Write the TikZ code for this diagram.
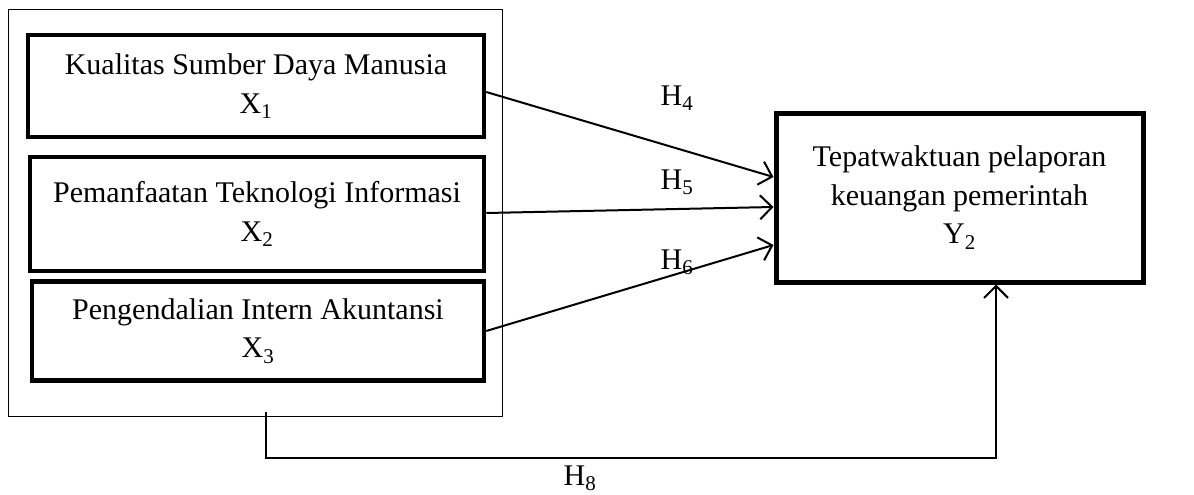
\documentclass[tikz,border=0pt]{standalone}
\usepackage{fontspec}
\setmainfont{Liberation Serif}
\usetikzlibrary{arrows.meta}
\begin{document}
\begin{tikzpicture}[x=1pt,y=-1pt,
  every node/.style={font=\fontsize{30}{38.5}\selectfont, inner sep=0pt, align=center},
  varbox/.style={draw, line width=4.5pt},
  outerbox/.style={draw, line width=1pt},
  arr/.style={line width=2pt, -{Straight Barb[length=12pt,width=24pt,line width=2pt]}},
  hlabel/.style={}
]
\useasboundingbox (0,0) rectangle (1194,495);
\node[outerbox, minimum width=494pt, minimum height=406pt] (outer) at (255,213) {};
\node[varbox, minimum width=456pt, minimum height=102pt] (b1) at (256,86) {Kualitas Sumber Daya Manusia\\X\textsubscript{1}};
\node[varbox, minimum width=454pt, minimum height=114pt] (b2) at (257,214) {Pemanfaatan Teknologi Informasi\\X\textsubscript{2}};
\node[varbox, minimum width=452pt, minimum height=99pt] (b3) at (258,331) {Pengendalian Intern Akuntansi\\X\textsubscript{3}};
\node[varbox, line width=5pt, minimum width=367pt, minimum height=169pt] (y) at (959.5,197.5) {Tepatwaktuan pelaporan\\keuangan pemerintah\\Y\textsubscript{2}};
\draw[arr] ([yshift=-6pt]b1.east) -- ([yshift=20.5pt]y.west);
\draw[arr] ([yshift=1pt]b2.east) -- ([yshift=-9.5pt]y.west);
\draw[arr] (b3.east) -- ([yshift=-47.5pt]y.west);
\node[hlabel] (h4) at (677,98) {H\textsubscript{4}};
\node[hlabel] (h5) at (677,182) {H\textsubscript{5}};
\node[hlabel] (h6) at (677,262) {H\textsubscript{6}};
\coordinate (s) at (266,412);
\coordinate (k) at (996,458);
\draw[arr] (s) |- (k) -- (k |- y.south);
\node[hlabel] (h8) at (580,478) {H\textsubscript{8}};
\end{tikzpicture}
\end{document}
